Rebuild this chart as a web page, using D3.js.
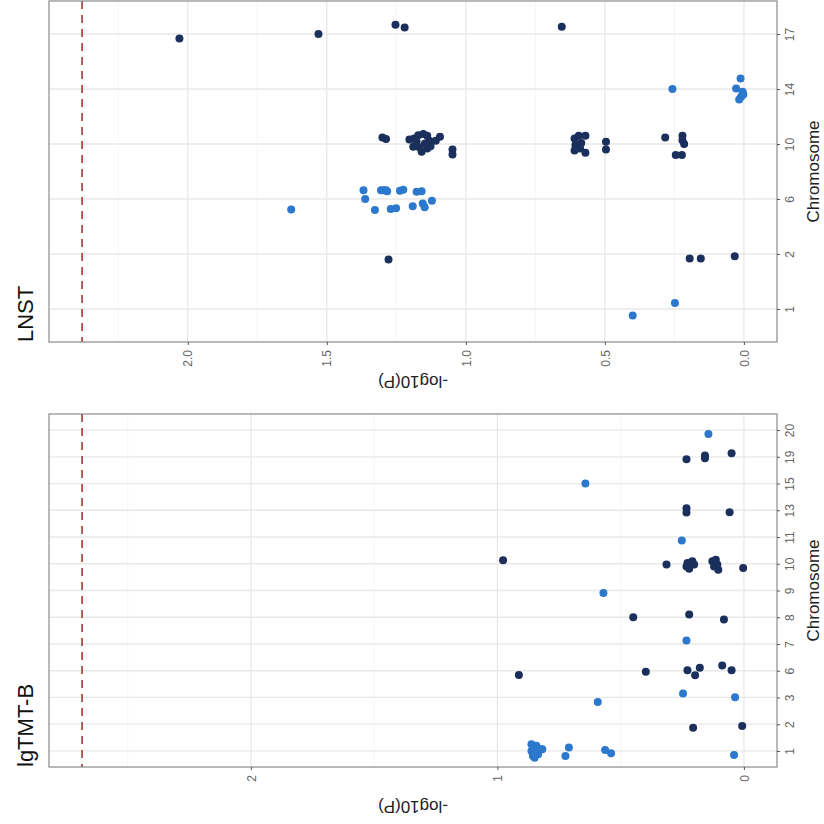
<!DOCTYPE html>
<html>
<head>
<meta charset="utf-8">
<script src="https://cdn.jsdelivr.net/npm/d3@7"></script>
<style>
  body { margin: 0; background: #fff; }
  svg { font-family: "Liberation Sans", Arial, sans-serif; }
</style>
</head>
<body>
<svg width="824" height="824"></svg>
<script>
// colours alternate by chromosome
var colBlue = "#2b78cc", colDark = "#1b2f5c";

// ---- LNST panel ----
var lnstChroms = ["1", "2", "6", "10", "14", "17"];
var lnstThreshold = 2.38;
var lnstChr = [
  "1", "1",
  "2", "2", "2", "2",
  "6", "6", "6", "6", "6", "6", "6", "6", "6", "6", "6", "6", "6", "6", "6", "6", "6", "6",
  "10", "10", "10", "10", "10", "10", "10", "10", "10", "10", "10", "10", "10", "10", "10", "10", "10", "10", "10",
  "10", "10", "10", "10", "10", "10", "10", "10", "10", "10", "10", "10", "10", "10", "10", "10",
  "14", "14", "14", "14", "14", "14", "14",
  "17", "17", "17", "17", "17"
];
var lnstLogP = [
  0.40, 0.248,
  1.278, 0.195, 0.155, 0.033,
  1.628, 1.368, 1.362, 1.327, 1.305, 1.295, 1.287, 1.283, 1.270, 1.251, 1.237, 1.225, 1.191, 1.177, 1.159, 1.155, 1.148, 1.122,
  1.300, 1.287, 1.203, 1.186, 1.171, 1.153, 1.139, 1.131, 1.127, 1.147, 1.167, 1.189, 1.159, 1.093, 1.108, 1.048, 1.048, 1.177, 1.139,
  0.609, 0.594, 0.570, 0.585, 0.606, 0.609, 0.589, 0.570, 0.496, 0.496, 0.283, 0.221, 0.221, 0.215, 0.245, 0.223,
  0.257, 0.012, 0.028, 0.005, 0.010, 0.017, 0.002,
  2.03, 1.53, 1.253, 1.22, 0.655
];
var lnstJitter = [
  -0.12, 0.11,
  -0.10, -0.08, -0.08, -0.04,
  -0.19, 0.16, 0.00, -0.20, 0.16, 0.16, 0.16, 0.14, -0.18, -0.17, 0.15, 0.17, -0.13, 0.13, 0.14, -0.08, -0.15, -0.03,
  0.12, 0.09, 0.08, 0.10, 0.16, 0.18, 0.15, 0.06, -0.04, 0.01, -0.06, -0.05, -0.14, 0.13, 0.06, -0.10, -0.19, 0.04, -0.08,
  0.10, 0.15, 0.15, 0.02, -0.02, -0.12, -0.08, -0.16, 0.04, -0.10, 0.12, 0.15, 0.07, 0.00, -0.20, -0.20,
  0.00, 0.19, 0.01, -0.05, -0.14, -0.19, -0.10,
  -0.08, 0.00, 0.17, 0.12, 0.13
];
var lnstTicks = [0, 0.5, 1.0, 1.5, 2.0];
var lnstMinor = [0.25, 0.75, 1.25, 1.75, 2.25];

// ---- lgTMT-B panel ----
var tmtChroms = ["1", "2", "3", "6", "7", "8", "9", "10", "11", "13", "15", "19", "20"];
var tmtThreshold = 2.685;
var tmtChr = [
  "1", "1", "1", "1", "1", "1", "1", "1", "1", "1", "1", "1", "1", "1", "1",
  "2", "2",
  "3", "3", "3",
  "6", "6", "6", "6", "6", "6", "6",
  "7",
  "8", "8", "8",
  "9",
  "10", "10", "10", "10", "10", "10", "10", "10", "10", "10", "10", "10", "10", "10",
  "11",
  "13", "13", "13",
  "15",
  "19", "19", "19", "19",
  "20"
];
var tmtLogP = [
  0.862, 0.842, 0.822, 0.862, 0.856, 0.835, 0.818, 0.849, 0.840, 0.850, 0.710, 0.724, 0.563, 0.539, 0.040,
  0.206, 0.007,
  0.247, 0.593, 0.036,
  0.913, 0.398, 0.229, 0.198, 0.179, 0.088, 0.050,
  0.233,
  0.449, 0.222, 0.081,
  0.570,
  0.977, 0.314, 0.229, 0.209, 0.222, 0.233, 0.202, 0.215, 0.128, 0.114, 0.121, 0.104, 0.108, 0.003,
  0.252,
  0.233, 0.233, 0.058,
  0.643,
  0.233, 0.158, 0.158, 0.050,
  0.144
];
var tmtJitter = [
  0.25, 0.19, 0.06, 0.00, -0.19, -0.12, 0.06, -0.25, 0.10, -0.05, 0.13, -0.19, 0.04, -0.09, -0.15,
  -0.13, -0.07,
  0.15, -0.17, 0.01,
  -0.16, -0.04, 0.02, -0.17, 0.11, 0.20, 0.02,
  0.13,
  0.00, 0.10, -0.08,
  -0.09,
  0.13, -0.03, 0.03, 0.09, -0.19, -0.10, -0.03, 0.05, 0.09, 0.15, -0.10, -0.22, -0.03, -0.16,
  -0.13,
  0.08, -0.08, -0.07,
  0.00,
  -0.09, 0.05, -0.05, 0.13,
  -0.15
];
var tmtTicks = [0, 1, 2];
var tmtMinor = [0.5, 1.5, 2.5];

var svg = d3.select("svg");

function drawPanel(title, chroms, chr, logp, jitter, threshold, ticks, minor, fmt, top, bottom) {
  var left = 49, right = 777;
  var g = svg.append("g");

  var hi = Math.max(threshold, d3.max(logp)), lo = 0;
  var pad = (hi - lo) * 0.05;
  var xScale = d3.scaleLinear().domain([hi + pad, lo - pad]).range([left, right]);
  var yScale = d3.scalePoint().domain(chroms).range([bottom, top]).padding(0.6);
  var step = yScale.step();

  // grid
  g.selectAll(".minor").data(minor).enter().append("line")
    .attr("x1", function(d) { return xScale(d); }).attr("x2", function(d) { return xScale(d); })
    .attr("y1", top).attr("y2", bottom)
    .attr("stroke", "#f2f2f2").attr("stroke-width", 0.8);
  g.selectAll(".majorx").data(ticks).enter().append("line")
    .attr("x1", function(d) { return xScale(d); }).attr("x2", function(d) { return xScale(d); })
    .attr("y1", top).attr("y2", bottom)
    .attr("stroke", "#e8e8e8").attr("stroke-width", 1.3);
  g.selectAll(".majory").data(chroms).enter().append("line")
    .attr("x1", left).attr("x2", right)
    .attr("y1", function(d) { return yScale(d); }).attr("y2", function(d) { return yScale(d); })
    .attr("stroke", "#e8e8e8").attr("stroke-width", 1.3);

  // threshold
  g.append("line")
    .attr("x1", xScale(threshold)).attr("x2", xScale(threshold))
    .attr("y1", top).attr("y2", bottom)
    .attr("stroke", "#b9474a").attr("stroke-width", 1.8)
    .attr("stroke-dasharray", "8,6");

  // points
  var idx = d3.range(logp.length);
  g.selectAll(".pt").data(idx).enter().append("circle")
    .attr("cx", function(i) { return xScale(logp[i]); })
    .attr("cy", function(i) { return yScale(chr[i]) - jitter[i] * step; })
    .attr("r", 4)
    .attr("fill", function(i) { return chroms.indexOf(chr[i]) % 2 == 0 ? colBlue : colDark; });

  // border
  g.append("rect")
    .attr("x", left).attr("y", top)
    .attr("width", right - left).attr("height", bottom - top)
    .attr("fill", "none").attr("stroke", "#8a8a8a").attr("stroke-width", 1.2);

  // x axis (bottom), labels rotated
  var xa = g.append("g").attr("transform", "translate(0," + bottom + ")")
    .call(d3.axisBottom(xScale).tickValues(ticks).tickFormat(fmt).tickSize(3));
  xa.select(".domain").remove();
  xa.selectAll("line").attr("stroke", "#555");
  xa.selectAll("text")
    .attr("transform", "rotate(-90)")
    .attr("x", -8).attr("y", 0).attr("dy", "0.35em")
    .attr("text-anchor", "end")
    .attr("fill", "#666").attr("font-size", 12);

  // y axis (right)
  var ya = g.append("g").attr("transform", "translate(" + right + ",0)")
    .call(d3.axisRight(yScale).tickSize(3));
  ya.select(".domain").remove();
  ya.selectAll("line").attr("stroke", "#555");
  ya.selectAll("text")
    .attr("transform", "rotate(-90)")
    .attr("x", 0).attr("y", 13).attr("dy", "0.35em")
    .attr("text-anchor", "middle")
    .attr("fill", "#666").attr("font-size", 12);

  // axis titles
  g.append("text")
    .attr("transform", "translate(" + ((left + right) / 2) + "," + (bottom + 40) + ") rotate(180)")
    .attr("text-anchor", "middle").attr("dy", "0.35em")
    .attr("font-size", 17).attr("fill", "#222")
    .text("-log10(P)");
  g.append("text")
    .attr("transform", "translate(813," + ((top + bottom) / 2) + ") rotate(-90)")
    .attr("text-anchor", "middle").attr("dy", "0.35em")
    .attr("font-size", 17).attr("fill", "#222")
    .text("Chromosome");

  // panel title
  g.append("text")
    .attr("transform", "translate(33," + bottom + ") rotate(-90)")
    .attr("text-anchor", "start")
    .attr("font-size", 22).attr("fill", "#111")
    .text(title);
}

drawPanel("LNST", lnstChroms, lnstChr, lnstLogP, lnstJitter, lnstThreshold,
  lnstTicks, lnstMinor, d3.format(".1f"), 1, 342);
drawPanel("lgTMT-B", tmtChroms, tmtChr, tmtLogP, tmtJitter, tmtThreshold,
  tmtTicks, tmtMinor, d3.format("d"), 414, 767);
</script>
</body>
</html>
